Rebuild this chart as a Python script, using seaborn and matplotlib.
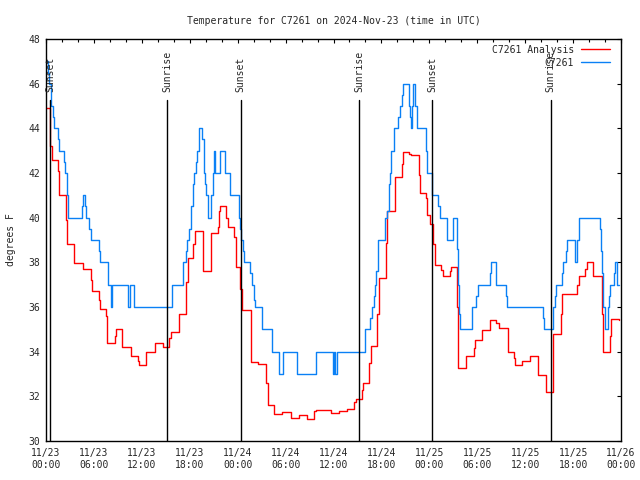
"""Temperature at C7261: analysis vs. observation, gnuplot-style step chart."""

import matplotlib
matplotlib.use("Agg")
import matplotlib.pyplot as plt
import seaborn as sns

# hours since 2024-11-23 00:00 UTC, value holds until the next hour entry
obs_hours = [
    0.0, 0.2, 0.4, 0.58, 0.83, 1.0, 1.54, 1.6, 2.25, 2.4, 2.58, 2.79, 4.47, 4.63,
    4.88, 5.0, 5.43, 5.6, 6.6, 6.77, 7.72, 8.14, 8.27, 10.23, 10.5, 11.0, 15.74,
    17.2, 17.5, 17.65, 17.9, 18.1, 18.35, 18.55, 18.8, 18.95, 19.15, 19.55, 19.75,
    19.9, 20.0, 20.3, 20.7, 20.9, 21.05, 21.2, 21.8, 22.4, 23.0, 24.2, 24.35,
    24.45, 24.7, 24.85, 25.6, 25.75, 26.0, 26.1, 26.2, 27.1, 28.3, 29.2, 29.7,
    31.4, 33.8, 35.9, 36.05, 36.2, 36.45, 39.9, 40.6, 40.8, 41.05, 41.2, 41.35,
    41.6, 42.4, 42.5, 42.7, 42.9, 43.1, 43.2, 43.55, 44.05, 44.3, 44.55, 44.7,
    45.5, 45.6, 45.7, 45.85, 46.0, 46.25, 46.5, 47.6, 47.75, 48.35, 49.1, 49.3,
    50.2, 51.0, 51.5, 51.6, 51.7, 51.9, 53.3, 53.9, 54.05, 55.6, 55.75, 56.3,
    57.6, 57.75, 62.2, 62.35, 63.5, 63.7, 63.85, 64.6, 64.75, 65.1, 65.25, 66.2,
    66.45, 66.7, 69.4, 69.5, 69.6, 69.7, 69.95, 70.0, 70.35, 70.5, 70.65, 71.1,
    71.25, 71.45, 71.8,
]
obs_temps = [
    47, 46.5, 46, 45, 44.5, 44, 43.5, 43, 42.5, 42, 41, 40, 40.5, 41,
    40.5, 40, 39.5, 39, 38.5, 38, 37, 36, 37, 36, 37, 36, 37,
    38, 38.5, 39, 39.5, 40.5, 41.5, 42, 42.5, 43, 44, 43.5, 42,
    41.5, 41, 40, 41, 42, 43, 42, 43, 42, 41, 40, 39.5,
    39, 38.5, 38, 37.5, 37, 36.75, 36.3, 36, 35, 34, 33, 34,
    33, 34, 33, 34, 33, 34, 35, 35.5, 36, 36.5, 37, 37.6,
    39, 39.5, 40, 40.3, 41.5, 42, 43, 44, 44.5, 45, 45.5, 46,
    45, 44.5, 44, 45, 46, 45, 44, 43, 42, 41, 40.5, 40,
    39, 40, 38.6, 37, 35.7, 35, 36, 36.5, 37, 37.5, 38, 37,
    36.5, 36, 35.5, 35, 36, 36.5, 37, 37.5, 38, 38.5, 39, 38,
    39, 40, 39.5, 38.5, 37.5, 36, 35.5, 35, 36, 36.5, 37, 37.5,
    38, 37, 37,
]

ana_hours = [
    0.0, 0.5, 0.7, 1.54, 1.67, 2.5, 2.67, 3.55, 4.6, 5.6, 5.76, 6.6, 6.77, 7.5,
    7.6, 8.6, 8.77, 9.56, 10.6, 11.5, 11.7, 12.5, 13.7, 14.6, 15.45, 15.6, 16.6,
    16.7, 17.55, 17.75, 18.45, 18.6, 19.6, 20.7, 21.5, 21.65, 21.8, 22.55, 22.85,
    23.6, 23.8, 24.3, 24.55, 25.7, 26.6, 27.6, 27.8, 28.6, 29.6, 30.7, 31.7,
    32.65, 33.5, 33.8, 35.7, 36.7, 37.7, 38.6, 38.85, 39.55, 39.7, 40.5, 40.7,
    41.5, 41.7, 42.6, 42.7, 43.65, 44.55, 44.7, 45.5, 45.7, 46.65, 46.8, 47.6,
    47.75, 48.1, 48.4, 48.65, 49.5, 49.7, 50.6, 50.75, 51.45, 51.55, 51.65, 52.6,
    53.6, 53.7, 54.6, 55.6, 56.4, 56.7, 57.8, 58.6, 58.7, 59.6, 60.6, 61.65,
    62.6, 63.5, 64.5, 64.6, 66.55, 66.7, 67.55, 67.7, 68.55, 69.6, 69.7, 70.6,
    70.7, 71.8,
]
ana_temps = [
    44.9, 43.2, 42.6, 42.1, 41.0, 39.9, 38.8, 37.95, 37.7, 37.2, 36.7, 36.3, 35.9, 35.6,
    34.4, 34.7, 35.0, 34.2, 33.8, 33.6, 33.4, 34.0, 34.4, 34.2, 34.6, 34.9, 35.3,
    35.7, 37.1, 38.2, 38.8, 39.4, 37.6, 39.3, 39.6, 40.3, 40.5, 40.0, 39.6,
    39.15, 37.8, 36.8, 35.85, 33.55, 33.45, 32.6, 31.6, 31.2, 31.3, 31.05, 31.15,
    31.0, 31.35, 31.4, 31.27, 31.35, 31.45, 31.75, 31.9, 32.3, 32.6, 33.5, 34.25,
    35.7, 37.3, 38.85, 40.3, 41.8, 42.4, 42.95, 42.85, 42.8, 41.9, 41.1, 40.9,
    40.1, 39.7, 38.8, 37.9, 37.65, 37.4, 37.6, 37.8, 36.0, 34.5, 33.25, 33.8,
    34.15, 34.5, 34.95, 35.4, 35.3, 35.05, 34.0, 33.7, 33.4, 33.6, 33.8, 32.95,
    32.2, 34.8, 35.7, 36.6, 37.0, 37.4, 37.7, 38.0, 37.4, 35.7, 34.0, 34.7,
    35.45, 35.4,
]

sun_hours = [0.5, 15.2, 24.4, 39.2, 48.35, 63.2]
sun_labels = ["Sunset", "Sunrise", "Sunset", "Sunrise", "Sunset", "Sunrise"]

tick_hours = list(range(0, 73, 6))
tick_labels = [
    "11/23\n00:00", "11/23\n06:00", "11/23\n12:00", "11/23\n18:00",
    "11/24\n00:00", "11/24\n06:00", "11/24\n12:00", "11/24\n18:00",
    "11/25\n00:00", "11/25\n06:00", "11/25\n12:00", "11/25\n18:00",
    "11/26\n00:00",
]

sns.set_style("white")
plt.rcParams["font.family"] = ["DejaVu Sans Mono"]
plt.rcParams["font.size"] = 7

fig = plt.figure(figsize=(6.4, 4.8), dpi=100)
ax = fig.add_axes([46 / 640, 39 / 480, 575 / 640, 402 / 480])

sns.lineplot(x=ana_hours, y=ana_temps, drawstyle="steps-post", estimator=None,
             sort=False, color="#ff0000", lw=1.0, ax=ax, label="C7261 Analysis")
sns.lineplot(x=obs_hours, y=obs_temps, drawstyle="steps-post", estimator=None,
             sort=False, color="#0a80f5", lw=1.0, ax=ax, label="C7261")

for h, name in zip(sun_hours, sun_labels):
    ax.axvline(h, ymin=0, ymax=0.848, color="black", lw=1.0)
    ax.text(h, 0.868, name, transform=ax.get_xaxis_transform(), rotation=90,
            ha="center", va="bottom", fontsize=7)

ax.set_xlim(0, 72)
ax.set_ylim(30, 48)
ax.set_xticks(tick_hours)
ax.set_xticklabels(tick_labels, linespacing=1.25)
ax.set_xticks(range(0, 73, 2), minor=True)
ax.set_yticks(range(30, 49, 2))
ax.tick_params(which="both", direction="in", top=True, right=True, color="black")
ax.tick_params(which="major", length=3.2, width=0.8)
ax.tick_params(which="minor", length=1.8, width=0.8)
ax.tick_params(axis="x", pad=5)
ax.tick_params(axis="y", pad=4)
for spine in ax.spines.values():
    spine.set_color("black")
    spine.set_linewidth(1.0)

ax.set_xlabel("")
ax.set_ylabel("degrees F", labelpad=9)
ax.set_title("Temperature for C7261 on 2024-Nov-23 (time in UTC)", fontsize=7, pad=11)

ax.legend(loc="upper right", bbox_to_anchor=(0.988, 0.995), frameon=False,
          markerfirst=False, handlelength=3.0, handletextpad=0.7,
          borderaxespad=0.0, labelspacing=0.3, fontsize=7)

fig.savefig("out.png", dpi=100)
plt.close(fig)
